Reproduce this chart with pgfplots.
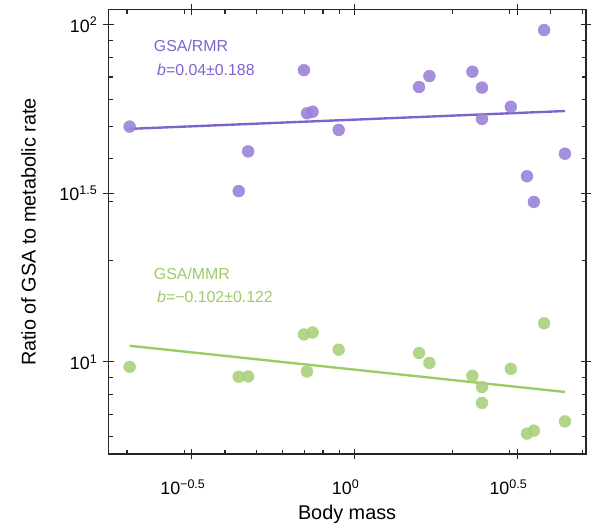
\documentclass[border=0pt]{standalone}
\usepackage{fontspec}
\setmainfont{Liberation Sans}
\usepackage{pgfplots}
\pgfplotsset{compat=1.18}

\definecolor{rmrdot}{RGB}{155,130,216}
\definecolor{rmrline}{RGB}{128,98,206}
\definecolor{mmrdot}{RGB}{168,210,124}
\definecolor{mmrline}{RGB}{154,204,100}

% body mass, ratio
\pgfplotstableread{
m r
0.2037 49.88
0.4406 32.12
0.4710 42.11
0.6990 73.37
0.7142 54.64
0.7430 55.23
0.8937 48.78
1.578 65.38
1.698 70.45
2.301 72.57
2.463 65.12
2.463 52.56
3.020 57.13
3.822 96.47
3.385 35.55
3.555 29.82
4.429 41.46
}\rmr
\pgfplotstableread{
m r
0.2037 9.667
0.4406 9.035
0.4710 9.054
0.6990 12.06
0.7430 12.23
0.7142 9.366
0.8937 10.87
1.578 10.63
1.698 9.933
2.301 9.095
2.463 8.425
2.463 7.558
3.020 9.537
3.822 13.02
3.385 6.129
3.555 6.254
4.429 6.660
}\mmr

\begin{document}
\begin{tikzpicture}
\begin{axis}[
  scale only axis, width=481.7pt, height=447.7pt,
  xmode=log, ymode=log, log basis x=10, log basis y=10,
  xmin=0.175, xmax=5.14, ymin=5.33, ymax=110.7,
  axis line style={line width=1.2pt, black!85},
  tick style={line width=1.1pt, black!85},
  tick align=inside, major tick length=4.5pt,
  xtick={0.2,0.3,0.4,0.5,0.6,0.7,0.8,0.9,2,3,4,5}, xticklabels={},
  ytick={6,7,8,9,20,30,40,50,60,70,80,90}, yticklabels={},
  minor xtick={}, minor ytick={},
  extra x ticks={0.31623,1,3.16228},
  extra x tick labels={10\textsuperscript{−0.5},10\textsuperscript{0},10\textsuperscript{0.5}},
  extra y ticks={10,31.623,100},
  extra y tick labels={10\textsuperscript{1},10\textsuperscript{1.5},10\textsuperscript{2}},
  extra x tick style={tick align=center, major tick length=11pt},
  extra y tick style={tick align=center, major tick length=11pt},
  ticklabel style={font=\fontsize{18}{20}\selectfont},
  xticklabel style={yshift=-17pt, xshift=-9pt},
  yticklabel style={xshift=-2pt},
  xlabel={Body mass}, ylabel={Ratio of GSA to metabolic rate},
  label style={font=\fontsize{20}{22}\selectfont},
  xlabel style={yshift=-3pt},
  ylabel style={yshift=17pt},
  clip=false,
]
\addplot[only marks, mark=*, mark size=6pt, color=rmrdot, mark options={solid, draw=rmrdot, fill=rmrdot, opacity=0.9}] table[x=m, y=r] {\rmr};
\addplot[only marks, mark=*, mark size=6pt, color=mmrdot, mark options={solid, draw=mmrdot, fill=mmrdot, opacity=0.9}] table[x=m, y=r] {\mmr};
\addplot[rmrline, no marks, line width=2.4pt] coordinates {(0.2037,49.12) (4.429,55.49)};
\addplot[mmrline, no marks, line width=2.4pt] coordinates {(0.2037,11.166) (4.429,8.145)};
\node[anchor=west, text=rmrline, font=\fontsize{16}{18}\selectfont, inner sep=0pt] at (rel axis cs:0.0955,0.9196) {GSA/RMR};
\node[anchor=west, text=rmrline, font=\fontsize{16}{18}\selectfont, inner sep=0pt] at (rel axis cs:0.1023,0.866) {\textit{b}=0.04±0.188};
\node[anchor=west, text=mmrline, font=\fontsize{16}{18}\selectfont, inner sep=0pt] at (rel axis cs:0.0955,0.4059) {GSA/MMR};
\node[anchor=west, text=mmrline, font=\fontsize{16}{18}\selectfont, inner sep=0pt] at (rel axis cs:0.1023,0.3545) {\textit{b}=−0.102±0.122};
\coordinate (bbl) at (rel axis cs:-0.2263,-0.148);
\coordinate (btr) at (rel axis cs:1.0027,1.0223);
\end{axis}
\path (bbl) rectangle (btr);
\end{tikzpicture}
\end{document}
